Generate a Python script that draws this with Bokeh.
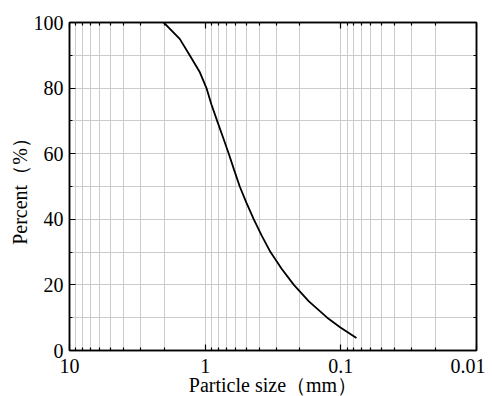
from bokeh.plotting import figure
from bokeh.models import FixedTicker, LogAxis, LinearAxis, CustomJSTickFormatter, Range1d
from bokeh.embed import file_html
from bokeh.resources import INLINE

# Data
sizes = [2.02, 1.54, 1.30, 1.10, 0.978, 0.899, 0.816, 0.739, 0.670, 0.611,
         0.556, 0.496, 0.438, 0.383, 0.330, 0.274, 0.222, 0.172, 0.126, 0.1007, 0.0767]
percent = [100, 95, 90, 85, 80, 75, 70, 65, 60, 55,
           50, 45, 40, 35, 30, 25, 20, 15, 10, 7, 3.8]

x_major = [10, 1, 0.1, 0.01]
x_minor = [m * 10.0 ** k for k in (-2, -1, 0) for m in range(2, 10)]
y_major = [0, 20, 40, 60, 80, 100]
y_minor = [10, 30, 50, 70, 90]

FONT = "Liberation Serif"
FS = "20px"

p = figure(frame_width=407, frame_height=328, x_axis_type="log",
           x_range=Range1d(10, 0.01), y_range=Range1d(0, 100),
           output_backend="svg", toolbar_location=None,
           min_border_left=69, min_border_top=22, min_border_right=9, min_border_bottom=46,
           background_fill_color="white", border_fill_color="white")

p.outline_line_color = "black"
p.outline_line_width = 1.5

xt = FixedTicker(ticks=x_major, minor_ticks=x_minor)
yt = FixedTicker(ticks=y_major, minor_ticks=y_minor)

def style(ax, labels=True):
    ax.axis_line_color = "black"
    ax.axis_line_width = 1.5
    ax.major_tick_line_color = "black"
    ax.minor_tick_line_color = "black"
    ax.major_tick_in = 6
    ax.major_tick_out = 0
    ax.minor_tick_in = 3
    ax.minor_tick_out = 0
    ax.major_tick_line_width = 1.2
    ax.minor_tick_line_width = 1.2
    ax.major_label_text_font = FONT
    ax.major_label_text_font_size = FS if labels else "0px"
    ax.major_label_text_color = "black"
    ax.axis_label_text_font = FONT
    ax.axis_label_text_font_size = FS
    ax.axis_label_text_font_style = "normal"
    ax.axis_label_text_color = "black"

xa = p.xaxis[0]
xa.ticker = xt
xa.formatter = CustomJSTickFormatter(code="return tick.toString();")
xa.axis_label = "Particle size（mm）"
style(xa)
xa.major_label_standoff = 8
xa.axis_label_standoff = -2

ya = p.yaxis[0]
ya.ticker = yt
ya.axis_label = "Percent（%）"
style(ya)
ya.major_label_standoff = 6
ya.axis_label_standoff = 0

top = LogAxis(ticker=xt)
style(top, labels=False)
top.formatter = CustomJSTickFormatter(code="return '';")
p.add_layout(top, "above")

right = LinearAxis(ticker=yt)
style(right, labels=False)
right.formatter = CustomJSTickFormatter(code="return '';")
p.add_layout(right, "right")

p.xgrid.ticker = xt
p.ygrid.ticker = yt
for g in (p.xgrid[0], p.ygrid[0]):
    g.grid_line_color = "#cccccc"
    g.grid_line_width = 1
    g.minor_grid_line_color = "#cccccc"
    g.minor_grid_line_width = 1

p.line(sizes, percent, line_color="black", line_width=1.8)

open("out.html", "w").write(file_html(p, INLINE))
